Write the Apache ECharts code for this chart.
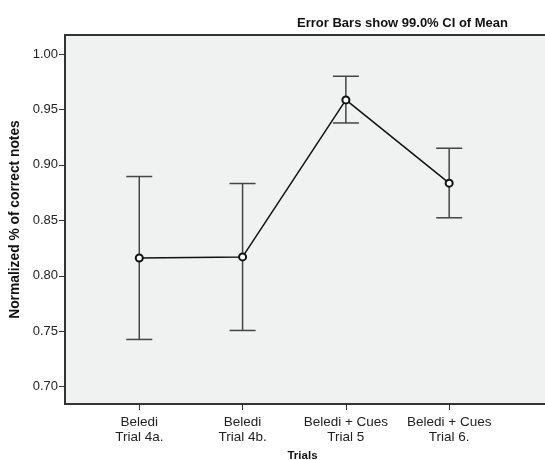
<!DOCTYPE html>
<html>
<head>
<meta charset="utf-8">
<script src="https://cdn.jsdelivr.net/npm/echarts@6/dist/echarts.min.js"></script>
<style>html,body{margin:0;padding:0;background:#fff}#c{width:545px;height:460px}</style>
</head>
<body>
<div id="c"></div>
<script>
var categories = ["Beledi\nTrial 4a.", "Beledi\nTrial 4b.", "Beledi + Cues\nTrial 5", "Beledi + Cues\nTrial 6."];
var means = [0.816, 0.817, 0.9586, 0.8835];
var lower = [0.7426, 0.7507, 0.9378, 0.8523];
var upper = [0.8895, 0.8832, 0.9799, 0.915];
var yTicks = [0.70, 0.75, 0.80, 0.85, 0.90, 0.95, 1.00];

var positions = categories.map(function (c, i) { return i + 1; });
var chart = echarts.init(document.getElementById('c'), null, {renderer: 'canvas'});
var font = 'Liberation Sans, Arial, sans-serif';
chart.setOption({
  animation: false,
  backgroundColor: '#ffffff',
  title: [{
    text: 'Error Bars show 99.0% CI of Mean',
    right: 32, top: 12,
    textStyle: {fontFamily: font, fontSize: 13, fontWeight: 'bold', color: '#111'}
  }],
  grid: {left: 65, right: -5, top: 35, bottom: 56, show: true, outerBoundsMode: 'none', containLabel: false,
    backgroundColor: '#f0f1f1', borderColor: '#333', borderWidth: 2},
  xAxis: {
    type: 'value', min: 0.281, max: 4.976,
    name: 'Trials', nameLocation: 'middle', nameGap: 43,
    nameTextStyle: {fontFamily: font, fontSize: 11.5, fontWeight: 'bold', color: '#111', padding: [0, 10, 0, 0]},
    splitLine: {show: false},
    axisLine: {show: false},
    axisTick: {show: true, length: 6, lineStyle: {color: '#333'}, customValues: positions},
    axisLabel: {
      customValues: positions, margin: 11, lineHeight: 15,
      fontFamily: font, fontSize: 13.5, color: '#222',
      formatter: function (v) { return categories[Math.round(v) - 1] || ''; }
    }
  },
  yAxis: {
    type: 'value', min: 0.6844, max: 1.0171,
    name: 'Normalized % of correct notes', nameLocation: 'middle', nameGap: 38,
    nameTextStyle: {fontFamily: font, fontSize: 13.8, fontWeight: 'bold', color: '#111'},
    splitLine: {show: false},
    axisLine: {show: false},
    axisTick: {show: true, length: 6, lineStyle: {color: '#333'}, customValues: yTicks},
    axisLabel: {
      customValues: yTicks, margin: 7,
      fontFamily: font, fontSize: 13, color: '#222',
      formatter: function (v) { return v.toFixed(2); }
    }
  },
  series: [{
    type: 'custom',
    renderItem: function (params, api) {
      var x = api.value(0);
      var lo = api.coord([x, api.value(1)]);
      var hi = api.coord([x, api.value(2)]);
      var w = 13;
      var st = {stroke: '#444', lineWidth: 1.5};
      return {type: 'group', children: [
        {type: 'line', shape: {x1: lo[0], y1: lo[1], x2: hi[0], y2: hi[1]}, style: st},
        {type: 'line', shape: {x1: lo[0] - w, y1: lo[1], x2: lo[0] + w, y2: lo[1]}, style: st},
        {type: 'line', shape: {x1: hi[0] - w, y1: hi[1], x2: hi[0] + w, y2: hi[1]}, style: st}
      ]};
    },
    data: positions.map(function (p, i) { return [p, lower[i], upper[i]]; }),
    z: 2
  }, {
    type: 'line',
    data: positions.map(function (p, i) { return [p, means[i]]; }),
    symbol: 'emptyCircle', symbolSize: 7,
    lineStyle: {color: '#111', width: 1.5},
    itemStyle: {color: '#111', borderColor: '#111', borderWidth: 1.5},
    z: 3
  }]
});
</script>
</body>
</html>
